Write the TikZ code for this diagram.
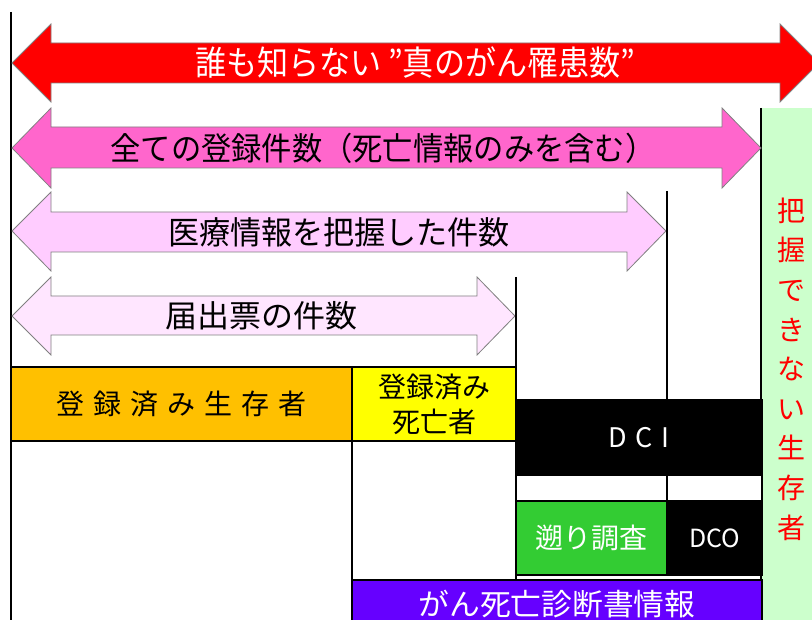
\documentclass[tikz,border=0pt]{standalone}
\usepackage{graphicx}
\usepackage{fontspec}
\newfontfamily\jp{Noto Sans CJK JP}
\definecolor{arRed}{HTML}{FF0000}
\definecolor{arPink}{HTML}{FF66CC}
\definecolor{arLight}{HTML}{FFCCFF}
\definecolor{arPale}{HTML}{FFE6FF}
\definecolor{arEdge}{HTML}{808080}
\definecolor{bgGreen}{HTML}{CCFFCC}
\definecolor{bxOrange}{HTML}{FFC000}
\definecolor{bxYellow}{HTML}{FFFF00}
\definecolor{bxGreen}{HTML}{33CC33}
\definecolor{bxPurple}{HTML}{6600FF}
\newcommand{\fitw}[2]{\resizebox{#1}{\height}{#2}}
\begin{document}
\begin{tikzpicture}[x=1pt,y=-1pt,
  arrowshape/.style={draw=arEdge, line width=0.8pt, line join=miter},
  cell/.style={draw=black, line width=1.5pt, anchor=north west, inner sep=0pt, outer sep=0pt},
  lbl/.style={font=\jp\fontsize{32}{38}\selectfont, inner sep=0pt},
  boxlbl/.style={font=\jp\fontsize{28}{35}\selectfont, inner sep=0pt},
  rule/.style={draw=black, line width=1.2pt}]
\useasboundingbox (0,0) rectangle (812,620);
\clip (0,0) rectangle (812,620);
\fill[white] (0,0) rectangle (812,620);

% green band on the right
\fill[bgGreen] (761,108) rectangle (816,626);
\coordinate (gTop) at (761,108);
\coordinate (gBot) at (761,626);
\draw[rule, line width=1.5pt] (gTop) -- (gBot);
\node[font=\jp\fontsize{28}{39.6}\selectfont, text=red, align=center, inner sep=0pt] (unk) at (791,369)
  {把\\握\\で\\き\\な\\い\\生\\存\\者};

% left vertical rule
\coordinate (l0t) at (11,12);
\coordinate (l0b) at (11,626);
\draw[rule] (l0t) -- (l0b);

% arrows
\filldraw[arrowshape, fill=arRed] (12,63) -- (51,24) -- (51,43) -- (780,43) -- (780,24) -- (819,63)
  -- (780,102) -- (780,83) -- (51,83) -- (51,102) -- cycle;
\node[lbl, font=\jp\fontsize{34}{40}\selectfont, text=white] (tRed) at (415,63) {\fitw{440pt}{誰も知らない ”真のがん罹患数”}};

\filldraw[arrowshape, fill=arPink] (12,148) -- (51,108) -- (51,127) -- (722,127) -- (722,108) -- (761,148)
  -- (722,188) -- (722,168) -- (51,168) -- (51,188) -- cycle;
\node[lbl] (tPink) at (383,148) {\fitw{545pt}{全ての登録件数（死亡情報のみを含む）}};

\filldraw[arrowshape, fill=arLight] (12,231) -- (51,192) -- (51,212) -- (627,212) -- (627,192) -- (666,231)
  -- (627,271) -- (627,252) -- (51,252) -- (51,271) -- cycle;
\node[lbl] (tLight) at (339,232) {\fitw{342pt}{医療情報を把握した件数}};

\filldraw[arrowshape, fill=arPale] (12,316) -- (51,277) -- (51,296) -- (477,296) -- (477,277) -- (515,316)
  -- (477,355) -- (477,335) -- (51,335) -- (51,355) -- cycle;
\node[lbl, font=\jp\fontsize{31}{37}\selectfont] (tPale) at (261,316) {\fitw{192pt}{届出票の件数}};

% boxes
\node[cell, fill=bxOrange, minimum width=341pt, minimum height=74pt] (surv) at (11,367) {};
\node[boxlbl] at (surv.center) {登\hspace{9pt}録\hspace{9pt}済\hspace{9pt}み\hspace{9pt}生\hspace{9pt}存\hspace{9pt}者};
\node[cell, fill=bxYellow, minimum width=164pt, minimum height=74pt] (dead) at (352,367) {};
\node[boxlbl, align=center] at (dead.center) {登録済み\\死亡者};
\node[cell, fill=white, minimum width=341pt, minimum height=190pt] (wL) at (11,441) {};
\node[cell, fill=white, minimum width=164pt, minimum height=139pt] (wM) at (352,441) {};

\node[cell, fill=black, minimum width=246pt, minimum height=75pt] (dci) at (516,400) {};
\node[font=\jp\fontsize{27}{32}\selectfont, text=white, inner sep=0pt] at (dci.center) {D\hspace{9pt}C\hspace{9pt}I};
\node[cell, fill=white, minimum width=151pt, minimum height=26pt] (cA) at (516,475) {};
\node[cell, fill=white, minimum width=95pt, minimum height=26pt] (cB) at (667,475) {};
\node[cell, fill=bxGreen, minimum width=151pt, minimum height=74pt] (back) at (516,501) {};
\node[boxlbl, text=white] at (back.center) {遡り調査};
\node[cell, fill=black, minimum width=95pt, minimum height=74pt] (dco) at (667,501) {};
\node[font=\jp\fontsize{25}{30}\selectfont, text=white, inner sep=0pt] at (dco.center) {DCO};
\node[cell, fill=bxPurple, minimum width=410pt, minimum height=48pt] (death) at (352,580) {};
\node[lbl, font=\jp\fontsize{30}{36}\selectfont, text=white] at (death.center) {\fitw{277pt}{がん死亡診断書情報}};

% vertical rules down to DCI
\coordinate (v1t) at (516,277);
\coordinate (v2t) at (667,191);
\coordinate (v2b) at (667,400);
\draw[rule] (v1t) -- (dci.north west);
\draw[rule] (v2t) -- (v2b);
\end{tikzpicture}
\end{document}
